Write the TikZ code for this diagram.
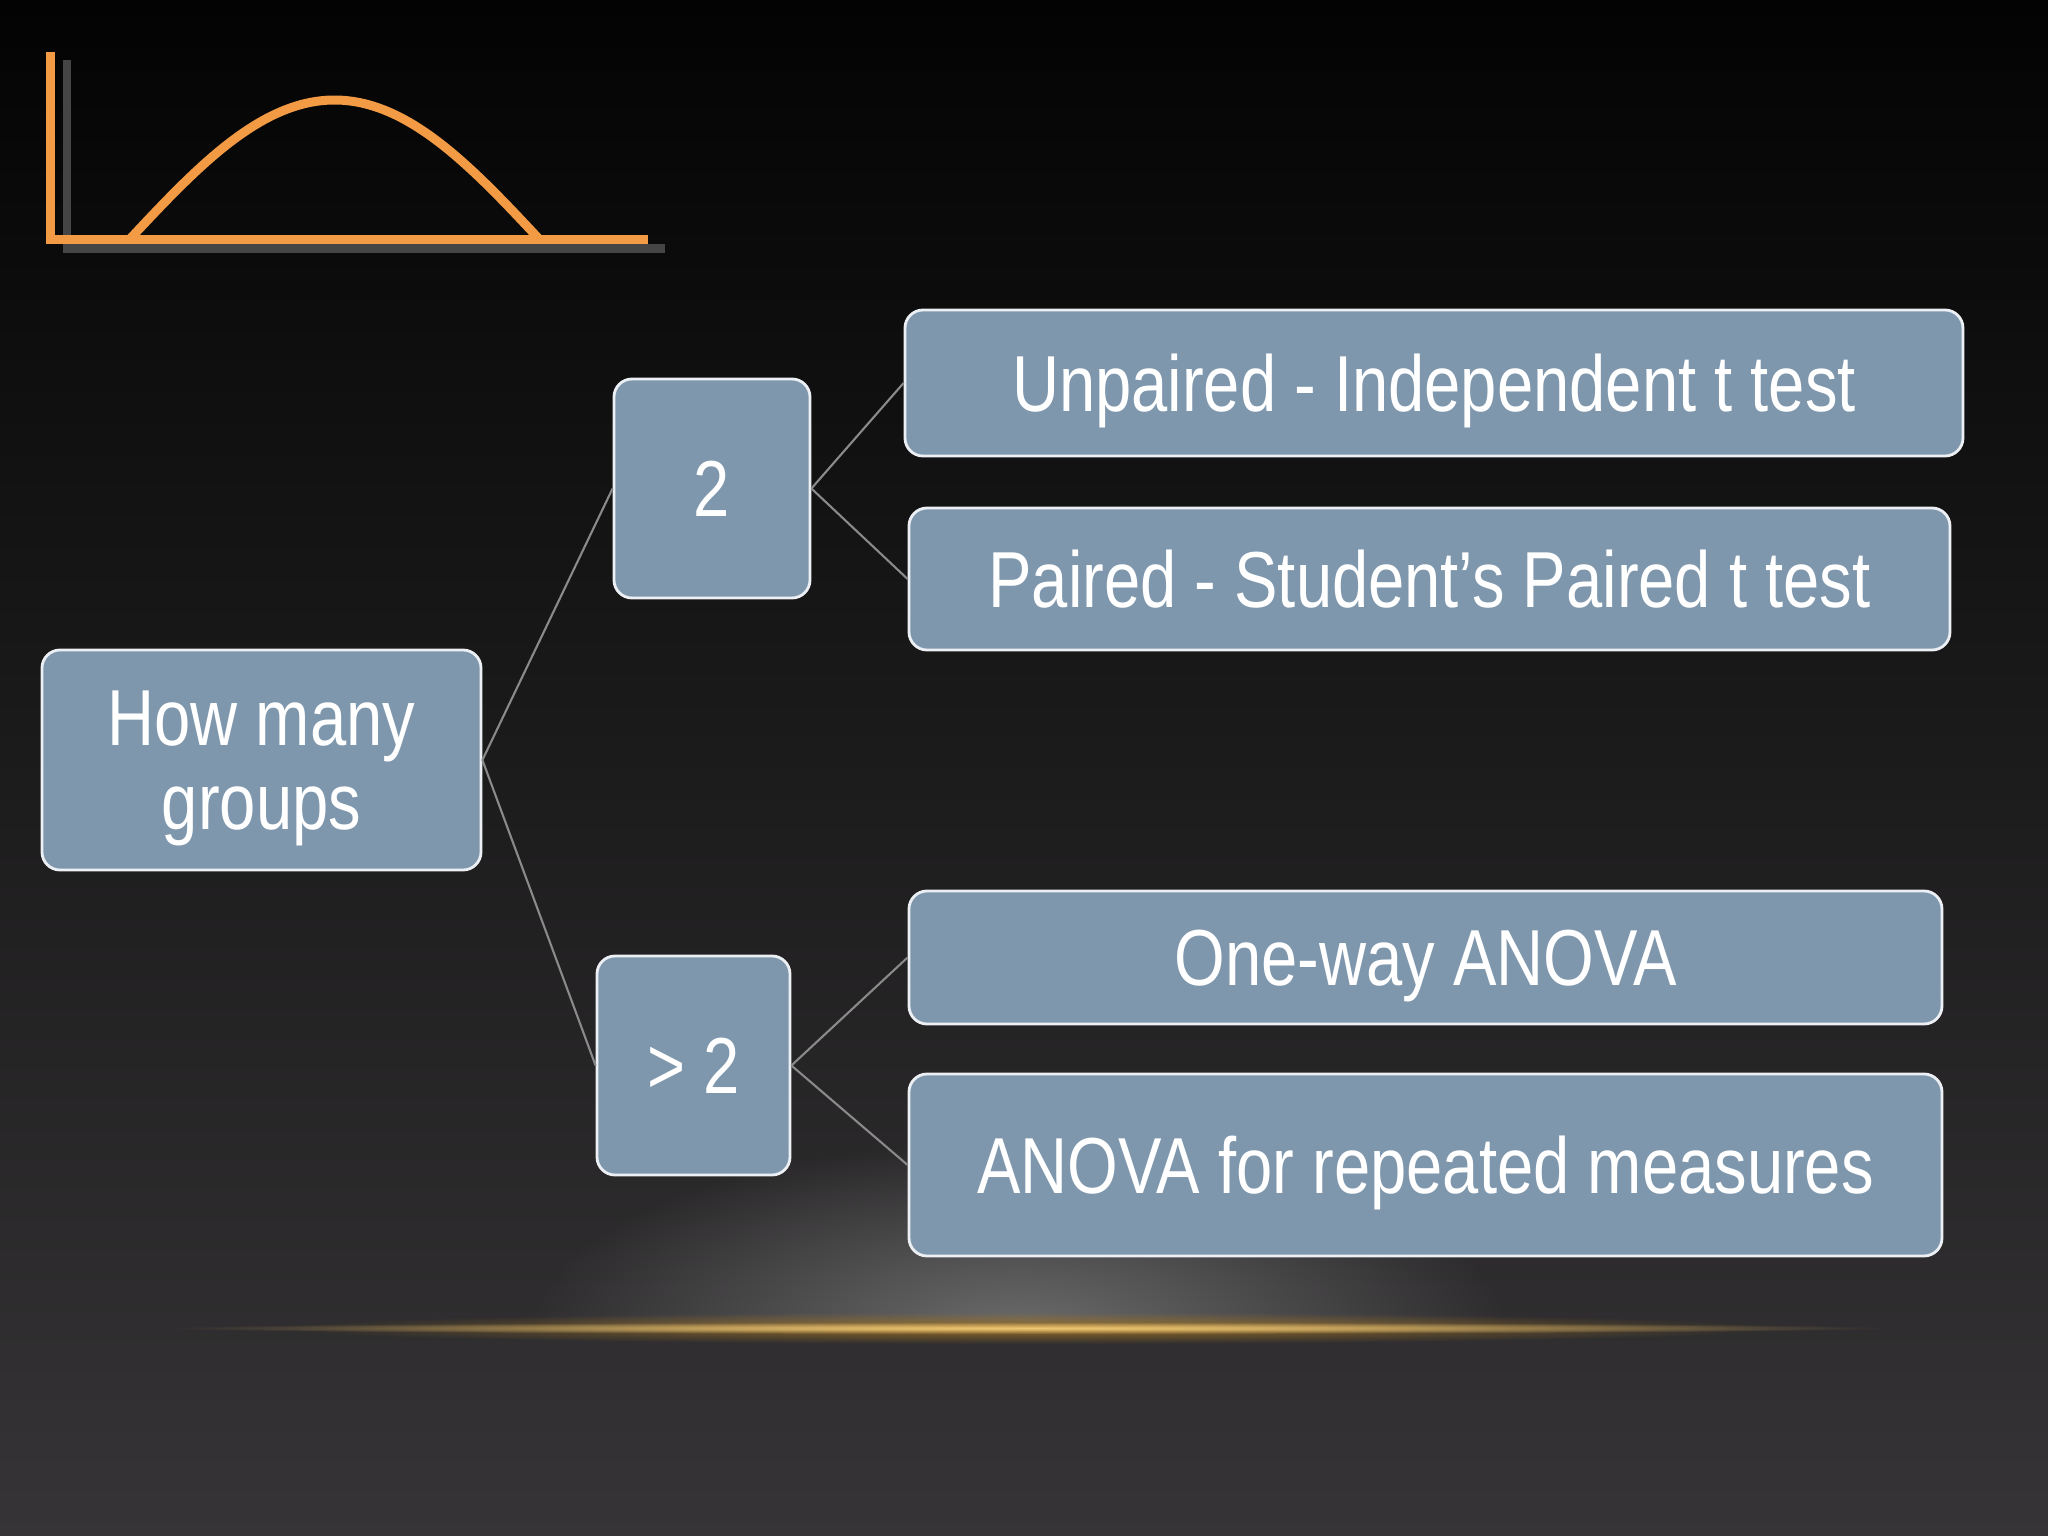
\documentclass[tikz,border=0pt]{standalone}
\usepackage{fontspec}
\setmainfont[FakeStretch=0.82]{Liberation Sans}
\usetikzlibrary{positioning,fadings}
\definecolor{boxblue}{RGB}{127,151,173}
\definecolor{curveorange}{RGB}{243,154,69}
\definecolor{linkgray}{RGB}{138,138,138}
\definecolor{goldline}{RGB}{240,200,115}
\definecolor{goldglow}{RGB}{150,110,40}
\definecolor{bgtop}{RGB}{3,3,3}
\definecolor{bgmid}{RGB}{27,27,29}
\definecolor{bgbottom}{RGB}{54,52,54}
\tikzfading[name=glowfade, inner color=transparent!0, outer color=transparent!100]
\tikzset{
	groupbox/.style={draw=white!85!boxblue, line width=0.8pt, fill=boxblue,
		rounded corners=0.18cm, text=white, align=center, inner sep=0pt,
		text depth=0pt, font=\fontsize{22.6}{24}\selectfont},
	link/.style={draw=linkgray, line width=0.6pt},
	axisline/.style={line width=0.09cm},
}

\begin{document}
\begin{tikzpicture}
\useasboundingbox (0,0) rectangle (20.48,-15.36);
% background
\shade[top color=bgtop, middle color=bgmid, bottom color=bgbottom] (0,0) rectangle (20.48,-15.36);
\begin{scope}
\clip (0,-8) rectangle (20.48,-13.30);
\fill[white!42!black, path fading=glowfade] (10.19,-13.30) ellipse (4.9 and 1.9);
\end{scope}
\fill[goldglow, path fading=glowfade] (10.3,-13.28) ellipse (7.5 and 0.16);
\fill[goldline, path fading=glowfade] (10.3,-13.28) ellipse (8.6 and 0.06);
% curve
\draw[axisline, white!27!black] (0.67,-0.60) -- (0.67,-2.49) -- (6.65,-2.49);
\draw[axisline, curveorange] (0.51,-0.52) -- (0.51,-2.40) -- (6.48,-2.40);
\draw[axisline, curveorange, line join=round] plot[domain=1.29:5.40, samples=80] (\x, {-2.40+1.40*sin(180*(\x-1.29)/4.11)});
% boxes
\node[groupbox, minimum width=4.39cm, minimum height=2.20cm] (hmg) at (2.615,-7.60) {How many\\groups};
\node[groupbox, minimum width=1.96cm, minimum height=2.19cm] (two) at (7.12,-4.885) {2};
\node[groupbox, minimum width=1.93cm, minimum height=2.19cm] (more) at (6.935,-10.655) {> 2};
\node[groupbox, minimum width=10.58cm, minimum height=1.46cm] (unpaired) at (14.34,-3.83) {Unpaired - Independent t test};
\node[groupbox, minimum width=10.41cm, minimum height=1.42cm] (paired) at (14.295,-5.79) {Paired - Student’s Paired t test};
\node[groupbox, minimum width=10.33cm, minimum height=1.33cm] (oneway) at (14.255,-9.575) {One-way ANOVA};
\node[groupbox, minimum width=10.33cm, minimum height=1.82cm] (repeated) at (14.255,-11.65) {ANOVA for repeated measures};
% links
\draw[link] (hmg.east) -- (two.west);
\draw[link] (hmg.east) -- (more.west);
\draw[link] (two.east) -- (unpaired.west);
\draw[link] (two.east) -- (paired.west);
\draw[link] (more.east) -- (oneway.west);
\draw[link] (more.east) -- (repeated.west);
\end{tikzpicture}
\end{document}
